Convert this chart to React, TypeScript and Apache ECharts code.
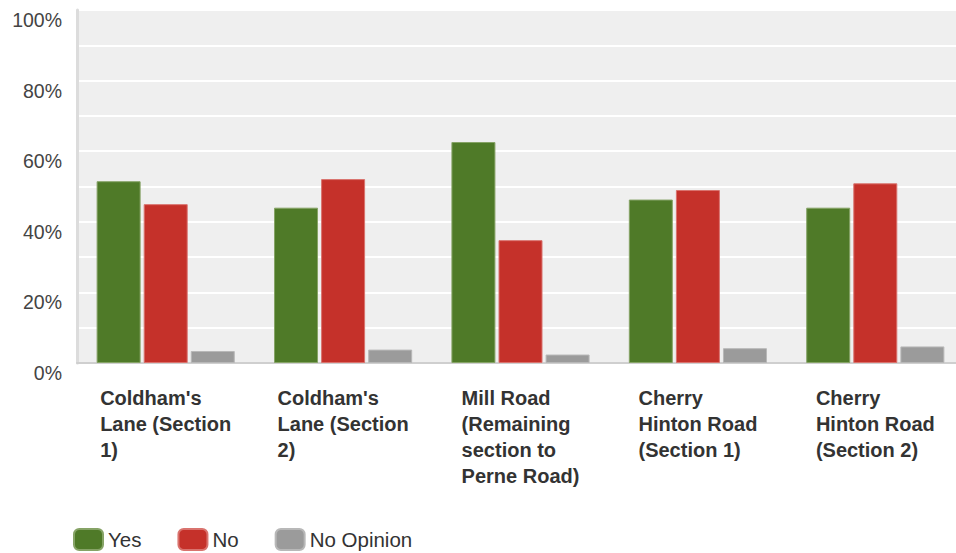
import React, { useEffect, useRef } from "react";
import * as echarts from "echarts";

const categories = [
  "Coldham's\nLane (Section\n1)",
  "Coldham's\nLane (Section\n2)",
  "Mill Road\n(Remaining\nsection to\nPerne Road)",
  "Cherry\nHinton Road\n(Section 1)",
  "Cherry\nHinton Road\n(Section 2)",
];
const yesValues = [51.5, 44.0, 62.6, 46.3, 44.0];
const noValues = [45.0, 52.1, 34.8, 49.0, 50.9];
const noOpinionValues = [3.4, 3.8, 2.4, 4.2, 4.7];
const seriesNames = ["Yes", "No", "No Opinion"];

const FONT = "'Liberation Sans', Arial, sans-serif";

export default function App() {
  const ref = useRef<HTMLDivElement>(null);
  useEffect(() => {
    document.body.style.margin = "0";
    if (!ref.current) return;
    const chart = echarts.init(ref.current, null, { renderer: "svg" });
    const barCommon = {
      type: "bar" as const,
      barWidth: 44,
      barGap: "7%",
    };
    chart.setOption({
      animation: false,
      textStyle: { fontFamily: FONT },
      grid: {
        left: 77,
        right: -8,
        top: 10,
        bottom: 190,
        show: true,
        backgroundColor: "#efefef",
        borderWidth: 0,
        containLabel: false,
        outerBoundsMode: "none",
      },
      legend: {
        left: 73,
        top: 528,
        padding: 0,
        icon: "roundRect",
        itemWidth: 29,
        itemHeight: 21,
        itemGap: 36,
        textStyle: { fontSize: 20.5, color: "#333", fontFamily: FONT },
        data: seriesNames,
      },
      xAxis: {
        type: "category",
        data: categories,
        axisLine: { show: true, lineStyle: { color: "#cfcfcf", width: 2 } },
        axisTick: { show: false },
        axisLabel: {
          interval: 0,
          margin: 22,
          align: "center",
          verticalAlign: "top",
          hideOverlap: false,
          formatter: (v: string) =>
            v
              .split("\n")
              .map((l) => `{a|${l}}`)
              .join("\n"),
          rich: {
            a: {
              align: "left",
              fontSize: 20,
              fontWeight: "bold",
              color: "#333",
              lineHeight: 26,
              fontFamily: FONT,
            },
          },
        },
      },
      yAxis: {
        type: "value",
        min: 0,
        max: 100,
        interval: 10,
        axisLine: { show: true, lineStyle: { color: "#dcdcdc", width: 3 } },
        axisTick: { show: false },
        splitLine: { show: true, lineStyle: { color: "#ffffff", width: 2 } },
        axisLabel: {
          margin: 15,
          fontSize: 19.5,
          color: "#444",
          fontFamily: FONT,
          verticalAlign: "top",
          formatter: (v: number) => (v % 20 === 0 ? `${v}%` : ""),
        },
      },
      series: [
        {
          ...barCommon,
          name: seriesNames[0],
          data: yesValues,
          itemStyle: { color: "#4f7a28", borderColor: "#86a366", borderWidth: 1 },
        },
        {
          ...barCommon,
          name: seriesNames[1],
          data: noValues,
          itemStyle: { color: "#c5312a", borderColor: "#d9736e", borderWidth: 1 },
        },
        {
          ...barCommon,
          name: seriesNames[2],
          data: noOpinionValues,
          itemStyle: { color: "#9b9b9b", borderColor: "#b8b8b8", borderWidth: 1 },
        },
      ],
    });
    return () => chart.dispose();
  }, []);
  return <div ref={ref} style={{ width: 956, height: 553 }} />;
}
